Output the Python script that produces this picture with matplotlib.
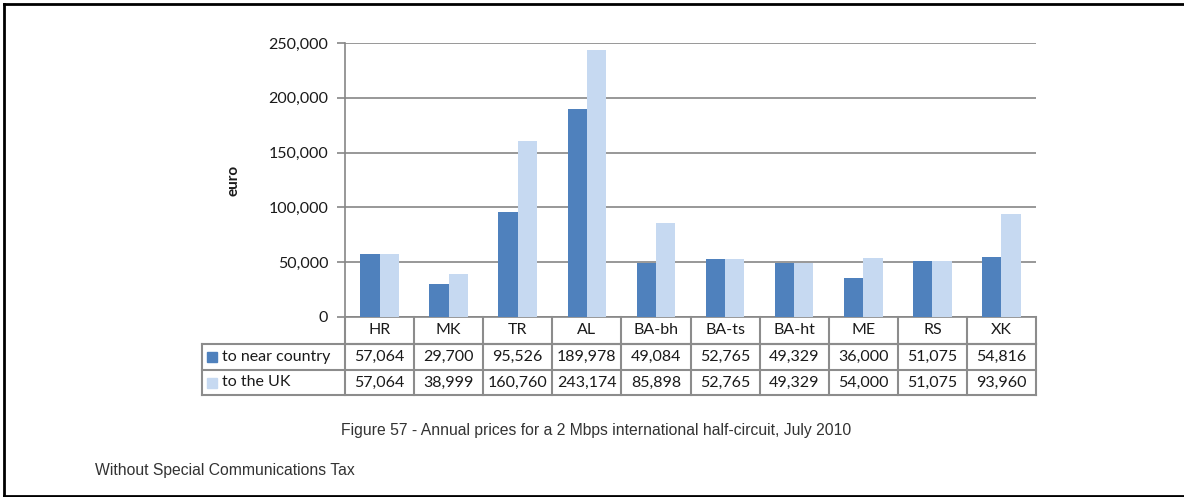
import matplotlib
matplotlib.use("Agg")
import matplotlib.pyplot as plt
import matplotlib.transforms as mtransforms
from matplotlib.lines import Line2D
from matplotlib.patches import Rectangle
import numpy as np

# ----------------------------- DATA ------------------------------------------
countries = ["HR", "MK", "TR", "AL", "BA-bh", "BA-ts", "BA-ht", "ME", "RS", "XK"]
near_country = [57064, 29700, 95526, 189978, 49084, 52765, 49329, 36000, 51075, 54816]
to_uk = [57064, 38999, 160760, 243174, 85898, 52765, 49329, 54000, 51075, 93960]
series_names = ["to near country", "to the UK"]
y_ticks = [0, 50000, 100000, 150000, 200000, 250000]

caption = "Figure 57 - Annual prices for a 2 Mbps international half-circuit, July 2010"
note = "Without Special Communications Tax"

# ----------------------------- STYLE -----------------------------------------
DARK, LIGHT = "#4f81bd", "#c6d9f1"
GRID, TXT, TABLE = "#868686", "#1a1a1a", "#8c8c8c"
W, H = 1184, 497
FONT = "Lato"


def fy(y):
    """pixel row (from top) -> figure fraction"""
    return 1 - y / H


fig = plt.figure(figsize=(W / 100, H / 100), dpi=100)
ax = fig.add_axes([345 / W, fy(317), (1036 - 345) / W, (317 - 43) / H])

x = np.arange(len(countries))
bw = 0.28
ax.bar(x - bw / 2, near_country, bw, color=DARK, zorder=3)
ax.bar(x + bw / 2, to_uk, bw, color=LIGHT, zorder=3)

ax.set_xlim(-0.5, len(countries) - 0.5)
ax.set_ylim(0, 250000)
ax.set_yticks(y_ticks)
ax.set_yticklabels([f"{v:,}" for v in y_ticks], fontsize=11.5, family=FONT, color=TXT)
ax.set_xticks([])
ax.tick_params(axis="y", length=6, width=1.2, color=GRID, pad=6)
ax.yaxis.grid(True, color=GRID, lw=1.2, zorder=0)
for s in ("top", "right"):
    ax.spines[s].set_visible(False)
for s in ("left", "bottom"):
    ax.spines[s].set_color(GRID)
    ax.spines[s].set_linewidth(1.2)
ax.set_ylabel("euro", fontsize=11, fontweight="bold", family=FONT, color=TXT, labelpad=20)

# ----------------------------- DATA TABLE ------------------------------------
tr = mtransforms.blended_transform_factory(ax.transData, fig.transFigure)
row_y = [317, 344, 370, 395]          # pixel rows: header, row1, row2 bottoms
label_left = (202 - 345) / ((1036 - 345) / len(countries)) - 0.5
xmin, xmax = -0.5, len(countries) - 0.5
lkw = dict(color=TABLE, lw=1.5, transform=tr, clip_on=False)

# horizontal lines
fig.add_artist(Line2D([xmin, xmax], [fy(row_y[1])] * 2, **lkw))
fig.add_artist(Line2D([label_left, xmax], [fy(row_y[1])] * 2, **lkw))
fig.add_artist(Line2D([label_left, xmax], [fy(row_y[2])] * 2, **lkw))
fig.add_artist(Line2D([label_left, xmax], [fy(row_y[3])] * 2, **lkw))
# vertical lines
for b in np.arange(len(countries) + 1) - 0.5:
    fig.add_artist(Line2D([b, b], [fy(row_y[0]), fy(row_y[3])], **lkw))
fig.add_artist(Line2D([label_left, label_left], [fy(row_y[1]), fy(row_y[3])], **lkw))

tkw = dict(fontsize=11.5, family=FONT, color=TXT, transform=tr, va="center", ha="center")
for i, c in enumerate(countries):
    fig.text(i, fy((row_y[0] + row_y[1]) / 2), c, **tkw)
    fig.text(i, fy((row_y[1] + row_y[2]) / 2), f"{near_country[i]:,}", **tkw)
    fig.text(i, fy((row_y[2] + row_y[3]) / 2), f"{to_uk[i]:,}", **tkw)

for r, (name, col) in enumerate(zip(series_names, [DARK, LIGHT])):
    yc = (row_y[r + 1] + row_y[r + 2]) / 2
    fig.add_artist(Rectangle((207 / W, fy(yc + 5)), 10 / W, 10 / H,
                             transform=fig.transFigure, color=col))
    fig.text(222 / W, fy(yc), name, fontsize=11.5, family=FONT, color=TXT,
             va="center", ha="left")

# ----------------------------- CAPTIONS & FRAME ------------------------------
fig.text(596 / W, fy(431), caption, fontsize=11.3, family="Liberation Sans",
         color="#333333", ha="center", va="center")
fig.text(95 / W, fy(471), note, fontsize=11.3, family="Liberation Sans",
         color="#333333", ha="left", va="center")

fkw = dict(color="black", lw=2, transform=fig.transFigure)
fig.add_artist(Line2D([4 / W, 1], [fy(4), fy(4)], **fkw))
fig.add_artist(Line2D([4 / W, 1], [fy(495.5), fy(495.5)], **fkw))
fig.add_artist(Line2D([4 / W, 4 / W], [fy(4), fy(495.5)], **fkw))

fig.savefig("out.png", dpi=100, facecolor="white")
